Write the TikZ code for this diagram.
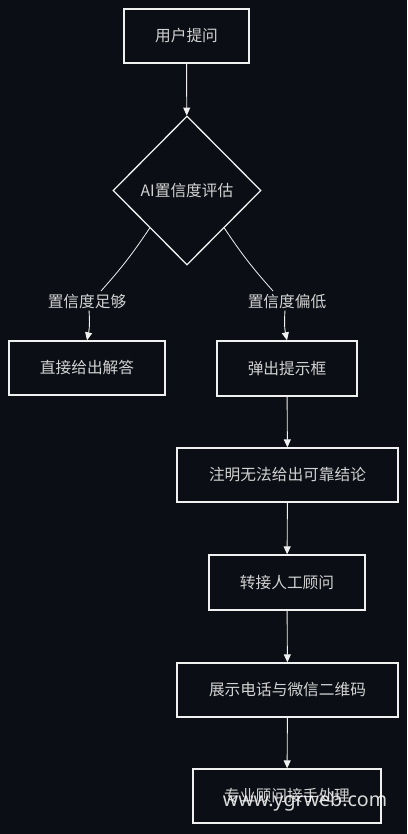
\documentclass[tikz,border=0pt]{standalone}
\usepackage{fontspec}
\setmainfont{Noto Sans CJK SC}
\newfontfamily\wmfont{Noto Sans}
\usetikzlibrary{shapes.geometric,arrows.meta}
\definecolor{bgc}{HTML}{0B0E14}
\definecolor{txc}{HTML}{D2D2D2}
\definecolor{lnc}{HTML}{F0F0F0}
\tikzset{
  box/.style={draw=lnc, line width=1.3pt, fill=bgc, text=txc, inner sep=0pt,
    font=\fontsize{15.7}{18}\selectfont},
  dia/.style={diamond, aspect=1, draw=lnc, line width=1.3pt, fill=bgc, text=txc,
    inner sep=0pt, minimum width=148pt, minimum height=149pt,
    font=\fontsize{15.7}{18}\selectfont},
  lbl/.style={text=txc, inner sep=1pt, font=\fontsize{15.7}{18}\selectfont},
  arr/.style={draw=lnc, line width=0.9pt, -{Triangle[width=7pt,length=8pt]}},
  ln/.style={draw=lnc, line width=0.8pt},
}
\begin{document}
\begin{tikzpicture}[x=1pt,y=-1pt]
\fill[bgc] (0,0) rectangle (407,834);
\useasboundingbox (0,0) rectangle (407,834);

\node[box, minimum width=125pt, minimum height=54pt] (q) at (186.5,36) {用户提问};
\node[dia] (d) at (187,190.5) {AI置信度评估};
\node[lbl] (l1) at (87,302) {置信度足够};
\node[lbl] (l2) at (287,302) {置信度偏低};
\node[box, minimum width=156pt, minimum height=54pt] (a1) at (87,368) {直接给出解答};
\node[box, minimum width=140pt, minimum height=55pt] (b1) at (287,368.5) {弹出提示框};
\node[box, minimum width=221pt, minimum height=54pt] (b2) at (287.5,475) {注明无法给出可靠结论};
\node[box, minimum width=156pt, minimum height=55pt] (b3) at (287,582.5) {转接人工顾问};
\node[box, minimum width=221pt, minimum height=54pt] (b4) at (287.5,690) {展示电话与微信二维码};
\node[box, minimum width=188pt, minimum height=54pt] (b5) at (287,796) {专业顾问接手处理};

\coordinate (l1t) at (101,291);
\coordinate (l2t) at (273,291);

\draw[arr] (q) -- (d);
\draw[ln] (d.south west) to[bend left=4] (l1t);
\draw[ln] (d.south east) to[bend right=4] (l2t);
\draw[arr] ([xshift=2pt]l1.south) to[bend left=8] (a1.north);
\draw[arr] ([xshift=-2pt]l2.south) to[bend right=8] (b1.north);
\draw[arr] (b1) -- (b2);
\draw[arr] (b2) -- (b3);
\draw[arr] (b3) -- (b4);
\draw[arr] (b4) -- (b5);

\node[text=white, opacity=0.85, inner sep=0pt, font=\wmfont\fontsize{19.6}{22}\selectfont] (wm) at (305,801) {www.ygrweb.com};
\end{tikzpicture}
\end{document}
